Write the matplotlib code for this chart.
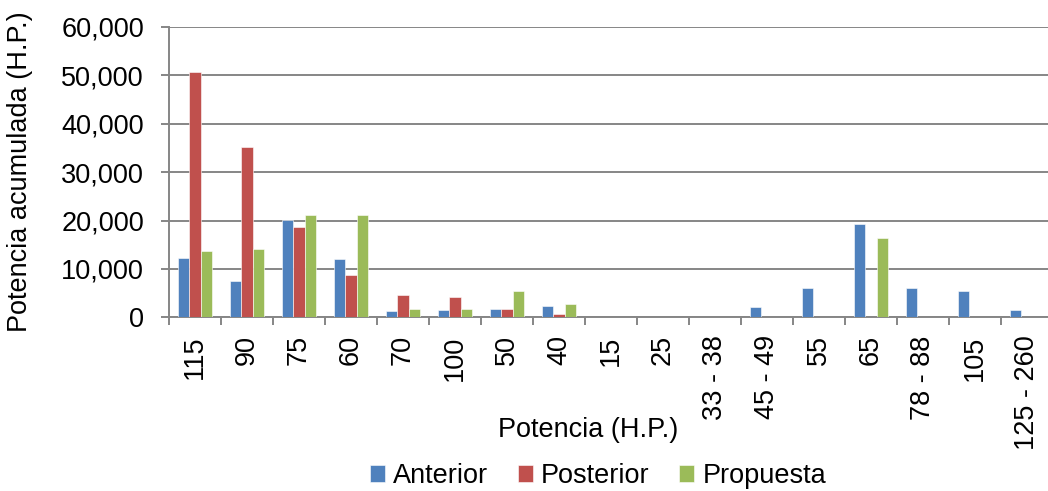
import matplotlib
matplotlib.use("Agg")
import matplotlib.pyplot as plt
import numpy as np

categories = ["115", "90", "75", "60", "70", "100", "50", "40", "15", "25",
              "33 - 38", "45 - 49", "55", "65", "78 - 88", "105", "125 - 260"]
anterior = [12300, 7500, 20100, 12050, 1250, 1600, 1800, 2300, 0, 0,
            0, 2100, 6000, 19300, 6000, 5500, 1600]
posterior = [50700, 35100, 18700, 8750, 4550, 4250, 1650, 700, 0, 0,
             0, 0, 0, 0, 0, 0, 0]
propuesta = [13700, 14050, 21100, 21150, 1750, 1650, 5450, 2700, 0, 0,
             0, 0, 0, 16350, 0, 0, 0]
series_names = ["Anterior", "Posterior", "Propuesta"]
colors = ["#4F81BD", "#C0504D", "#9BBB59"]

plt.rcParams['font.family'] = ['Liberation Sans', 'DejaVu Sans']
FS = 19.5

W, H = 1048, 491
fig = plt.figure(figsize=(W / 100, H / 100), dpi=100)
left, right, top, bottom = 169, 1053, 27, 317.3
ax = fig.add_axes([left / W, 1 - bottom / H, (right - left) / W, (bottom - top) / H])

x = np.arange(len(categories))
bw = 0.22
for i, (vals, name, c) in enumerate(zip([anterior, posterior, propuesta], series_names, colors)):
    ax.bar(x + (i - 1) * bw, vals, width=bw, color=c, label=name,
           edgecolor="#ffffff", linewidth=0.4, zorder=3)

ax.set_xlim(-0.5, len(categories) - 0.5)
ax.set_ylim(0, 60000)
ax.set_yticks(np.arange(0, 60001, 10000))
ax.set_yticklabels([f"{v:,}" for v in range(0, 60001, 10000)], fontsize=FS)
ax.set_xticks(np.arange(len(categories) + 1) - 0.5, minor=False)
ax.set_xticklabels([])
ax.set_xticks(x, minor=True)
ax.set_xticklabels(categories, minor=True, rotation=90, va='top', ha='center', fontsize=FS)

gray = "#868686"
ax.grid(axis='y', color=gray, linewidth=1.4, zorder=0)
ax.set_axisbelow(True)
for s in ['top', 'right']:
    ax.spines[s].set_visible(False)
for s in ['left', 'bottom']:
    ax.spines[s].set_color(gray)
    ax.spines[s].set_linewidth(1.4)
ax.tick_params(axis='y', which='major', length=6, width=1.4, color=gray, pad=12)
ax.tick_params(axis='x', which='major', length=6, width=1.4, color=gray, direction='out')
ax.tick_params(axis='x', which='minor', length=0, pad=13)

fig.text(588 / W, 1 - 430 / H, "Potencia (H.P.)", ha='center', va='center', fontsize=FS)
fig.text(20 / W, 1 - 172 / H, "Potencia acumulada (H.P.)", ha='center', va='center',
         rotation=90, fontsize=FS)

fig.legend(loc='center', bbox_to_anchor=(598 / W, 1 - 476 / H), ncol=3, frameon=False,
           fontsize=FS, handlelength=0.55, handleheight=0.55, handletextpad=0.3,
           columnspacing=1.1, borderpad=0)

fig.savefig("out.png", dpi=100)
